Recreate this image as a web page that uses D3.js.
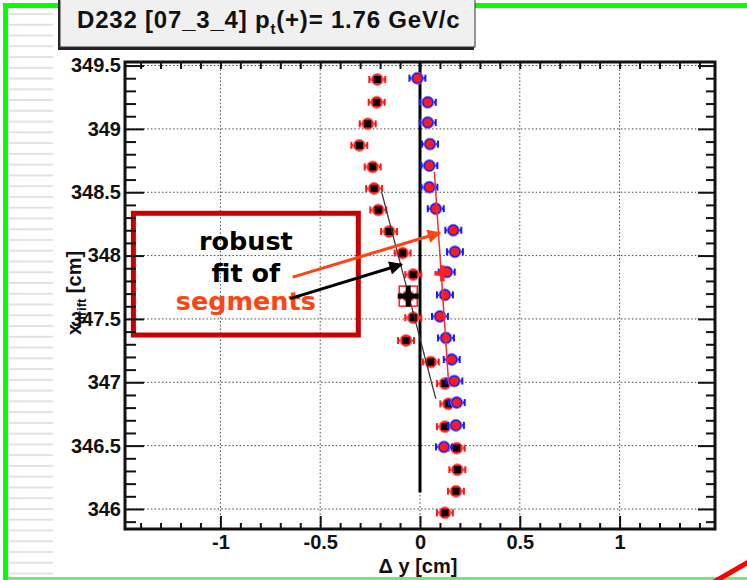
<!DOCTYPE html>
<html>
<head>
<meta charset="utf-8">
<script src="https://cdn.jsdelivr.net/npm/d3@7/dist/d3.min.js"></script>
<style>
  body { margin: 0; background: #fff; }
  svg { display: block; font-family: "Liberation Sans", Arial, Helvetica, sans-serif; font-weight: bold; }
</style>
</head>
<body>
<div id="chart"></div>
<script>

// layer hits, first set (black squares, red error bars)
var blackDy = [-0.214, -0.217, -0.262, -0.304, -0.237, -0.230, -0.209, -0.155, -0.087, -0.034,
               -0.059, -0.034, -0.070, 0.054, 0.125, 0.142, 0.125, 0.184, 0.187, 0.180, 0.125];
var blackX  = [349.39, 349.21, 349.04, 348.87, 348.70, 348.53, 348.36, 348.19, 348.02, 347.85,
               347.68, 347.51, 347.33, 347.16, 346.99, 346.83, 346.65, 346.48, 346.31, 346.14, 345.97];

// layer hits, second set (red dots, blue error bars)
var blueDy = [-0.013, 0.039, 0.039, 0.050, 0.047, 0.047, 0.079, 0.167, 0.175, 0.134,
              0.125, 0.100, 0.130, 0.159, 0.172, 0.184, 0.180, 0.120];
var blueX  = [349.40, 349.21, 349.05, 348.88, 348.71, 348.54, 348.37, 348.20, 348.03, 347.87,
              347.69, 347.52, 347.35, 347.18, 347.01, 346.84, 346.66, 346.49];

var hitErr = 0.04;

// segment fits: [dy, x] end points
var blackFit = [[-0.192, 348.50], [0.079, 346.87]];
var redFit   = [[0.072, 348.66], [0.143, 347.00]];

// fitted segment centres
var blackCentre = [-0.059, 347.68];
var redCentre   = [0.112, 347.86];

// reference wire line at dy = 0
var wireLine = [[0, 349.53], [0, 346.13]];

var xMajor = [-1, -0.5, 0, 0.5, 1];
var yMajor = [346, 346.5, 347, 347.5, 348, 348.5, 349, 349.5];

var W = 747, H = 580;
var frame = {left: 125, top: 62, right: 715, bottom: 529};

var svg = d3.select("#chart").append("svg")
    .attr("width", W).attr("height", H);

var x = d3.scaleLinear().domain([-1.478, 1.478]).range([frame.left, frame.right]);
var y = d3.scaleLinear().domain([345.842, 349.528]).range([frame.bottom, frame.top]);

// canvas decorations
var stripes = svg.append("g");
stripes.selectAll("rect")
    .data(d3.range(13, 576, 10.76))
    .enter().append("rect")
    .attr("x", 8).attr("width", 45)
    .attr("y", function(d) { return d; }).attr("height", 2)
    .attr("fill", "#e2e2e2");

svg.append("rect").attr("x", 3).attr("y", 3).attr("width", 5).attr("height", H).attr("fill", "#00ff00");
svg.append("rect").attr("x", 3).attr("y", 3).attr("width", W).attr("height", 5).attr("fill", "#00ff00");
svg.append("rect").attr("x", 8).attr("y", 577).attr("width", W).attr("height", 3).attr("fill", "#6fec6f");
svg.append("line")
    .attr("x1", 714).attr("y1", 582).attr("x2", 752).attr("y2", 560)
    .attr("stroke", "#ff0000").attr("stroke-width", 5);

// title pave
svg.append("rect").attr("x", 58).attr("y", -6).attr("width", 416).attr("height", 56).attr("fill", "#222");
svg.append("rect").attr("x", 60).attr("y", -6).attr("width", 415).attr("height", 53)
    .attr("fill", "#f0f0f0").attr("stroke", "#333").attr("stroke-width", 1);

var title = svg.append("text").attr("x", 77).attr("y", 28)
    .attr("font-size", 24).attr("fill", "#111").style("letter-spacing", "0.8px");
title.append("tspan").text("D232 [07_3_4] p");
title.append("tspan").attr("font-size", 15).attr("dy", 6).text("t");
title.append("tspan").attr("dy", -6).text("(+)= 1.76 GeV/c");

var plot = svg.append("g");

// dotted grid
plot.selectAll(".gx").data(xMajor).enter().append("line")
    .attr("x1", function(d) { return x(d); }).attr("x2", function(d) { return x(d); })
    .attr("y1", frame.top).attr("y2", frame.bottom)
    .attr("stroke", "#444").attr("stroke-width", 1).attr("stroke-dasharray", "1.5,2.2");
plot.selectAll(".gy").data(yMajor).enter().append("line")
    .attr("y1", function(d) { return y(d); }).attr("y2", function(d) { return y(d); })
    .attr("x1", frame.left).attr("x2", frame.right)
    .attr("stroke", "#444").attr("stroke-width", 1).attr("stroke-dasharray", "1.5,2.2");

var line = d3.line().x(function(d) { return x(d[0]); }).y(function(d) { return y(d[1]); });

plot.append("path").attr("d", line(wireLine))
    .attr("stroke", "#000").attr("stroke-width", 3).attr("fill", "none");

// hit markers with horizontal error bars
function drawHits(dys, xs, barColor, outerFill, outerStroke, innerShape, innerFill) {
  var data = dys.map(function(d, i) { return {dy: d, xd: xs[i]}; });
  var g = plot.append("g");
  var pts = g.selectAll("g").data(data).enter().append("g")
      .attr("transform", function(d) { return "translate(" + x(d.dy) + "," + y(d.xd) + ")"; });
  var hw = x(hitErr) - x(0);
  pts.append("line").attr("x1", -hw).attr("x2", hw).attr("y1", 0).attr("y2", 0)
      .attr("stroke", barColor).attr("stroke-width", 2.5);
  pts.append("line").attr("x1", -hw).attr("x2", -hw).attr("y1", -3.5).attr("y2", 3.5)
      .attr("stroke", barColor).attr("stroke-width", 2);
  pts.append("line").attr("x1", hw).attr("x2", hw).attr("y1", -3.5).attr("y2", 3.5)
      .attr("stroke", barColor).attr("stroke-width", 2);
  pts.append("circle").attr("r", 6)
      .attr("fill", outerFill).attr("stroke", outerStroke).attr("stroke-width", 1);
  if (innerShape === "square") {
    pts.append("rect").attr("x", -3.5).attr("y", -3.5).attr("width", 7).attr("height", 7).attr("fill", innerFill);
  } else {
    pts.append("circle").attr("r", 4.3).attr("fill", innerFill);
  }
}

drawHits(blackDy, blackX, "#ff1a1a", "#ff1a1a", "#ff7a7a", "square", "#000");
drawHits(blueDy, blueX, "#1a1aff", "#1a1aff", "#7a7aff", "circle", "#ff1a1a");

// segment fit lines
plot.append("path").attr("d", line(blackFit))
    .attr("stroke", "#333").attr("stroke-width", 1.2).attr("fill", "none");
plot.append("path").attr("d", line(redFit))
    .attr("stroke", "#ff2a2a").attr("stroke-width", 1.5).attr("fill", "none");

// fitted centres
function cross(pt, arm, thick, color) {
  var cx = x(pt[0]), cy = y(pt[1]);
  plot.append("rect").attr("x", cx - arm).attr("y", cy - thick / 2).attr("width", 2 * arm).attr("height", thick).attr("fill", color);
  plot.append("rect").attr("x", cx - thick / 2).attr("y", cy - arm).attr("width", thick).attr("height", 2 * arm).attr("fill", color);
}
plot.append("rect")
    .attr("x", x(blackCentre[0]) - 9).attr("y", y(blackCentre[1]) - 10)
    .attr("width", 18).attr("height", 20)
    .attr("fill", "none").attr("stroke", "#ff2020").attr("stroke-width", 1.5);
cross(blackCentre, 10.5, 5, "#000");
cross(redCentre, 8, 4.5, "#ff2020");

// annotation
var box = {x0: -1.436, x1: -0.309, y0: 348.334, y1: 347.373};
svg.append("rect")
    .attr("x", x(box.x0)).attr("y", y(box.y0))
    .attr("width", x(box.x1) - x(box.x0)).attr("height", y(box.y1) - y(box.y0))
    .attr("fill", "none").attr("stroke", "#c80000").attr("stroke-width", 5);

var bx = (x(box.x0) + x(box.x1)) / 2, by = y(box.y0);
var words = [["robust", "#000", 36.7], ["fit of", "#000", 68.4], ["segments", "#ff4411", 96.7]];
svg.selectAll(".note").data(words).enter().append("text")
    .attr("x", bx).attr("y", function(d) { return by + d[2]; })
    .attr("text-anchor", "middle")
    .style("font-family", "'DejaVu Sans', Verdana, sans-serif")
    .attr("font-size", 25.5)
    .attr("fill", function(d) { return d[1]; })
    .text(function(d) { return d[0]; });

var defs = svg.append("defs");
[["headRed", "#ff4411"], ["headBlack", "#000"]].forEach(function(m) {
  defs.append("marker").attr("id", m[0])
      .attr("viewBox", "0 0 10 10").attr("refX", 9).attr("refY", 5)
      .attr("markerWidth", 5.5).attr("markerHeight", 4.5)
      .attr("markerUnits", "strokeWidth").attr("orient", "auto")
      .append("path").attr("d", "M0,0L10,5L0,10z").attr("fill", m[1]);
});

var arrows = [
  {from: [-0.638, 347.83], to: [0.100, 348.18], color: "#ff4411", head: "headRed"},
  {from: [-0.651, 347.66], to: [-0.092, 347.93], color: "#000", head: "headBlack"}
];
svg.selectAll(".arrow").data(arrows).enter().append("line")
    .attr("x1", function(d) { return x(d.from[0]); }).attr("y1", function(d) { return y(d.from[1]); })
    .attr("x2", function(d) { return x(d.to[0]); }).attr("y2", function(d) { return y(d.to[1]); })
    .attr("stroke", function(d) { return d.color; }).attr("stroke-width", 3)
    .attr("marker-end", function(d) { return "url(#" + d.head + ")"; });

// axes: major and minor ticks point inwards
var fmt = function(d) { return String(d); };
var xMinor = x.ticks(30).filter(function(d) { return xMajor.indexOf(d) < 0; });
var yMinor = d3.range(3459, 3496).map(function(d) { return d / 10; })
    .filter(function(d) { return yMajor.indexOf(d) < 0; });

function axis(gen, tr, values, size, labels, pad) {
  var g = svg.append("g").attr("transform", tr)
      .call(gen.tickValues(values).tickSize(-size).tickPadding(pad || 0)
               .tickFormat(labels ? fmt : function() { return ""; }));
  g.select(".domain").remove();
  g.attr("font-family", null).attr("font-size", null);
  g.selectAll(".tick line").attr("stroke", "#111").attr("stroke-width", 2);
  g.selectAll(".tick text").attr("font-size", 20).attr("fill", "#111");
  return g;
}
var bottomTr = "translate(0," + frame.bottom + ")";
axis(d3.axisBottom(x), bottomTr, xMajor, 13, true, 6);
axis(d3.axisBottom(x), bottomTr, xMinor, 6, false);
axis(d3.axisTop(x), "translate(0," + frame.top + ")", xMajor.concat(xMinor), 7, false);
var leftTr = "translate(" + frame.left + ",0)";
axis(d3.axisLeft(y), leftTr, yMajor, 19, true, 4);
axis(d3.axisLeft(y), leftTr, yMinor, 11, false);
var rightTr = "translate(" + frame.right + ",0)";
axis(d3.axisRight(y), rightTr, yMajor, 17, false);
axis(d3.axisRight(y), rightTr, yMinor, 9, false);

svg.append("rect")
    .attr("x", frame.left).attr("y", frame.top)
    .attr("width", frame.right - frame.left).attr("height", frame.bottom - frame.top)
    .attr("fill", "none").attr("stroke", "#111").attr("stroke-width", 3);

// axis titles
var xt = svg.append("text").attr("x", x(0) - 2).attr("y", 573)
    .attr("text-anchor", "middle").attr("font-size", 20).attr("fill", "#111");
xt.text("\u0394 y [cm]");

var yt = svg.append("text").attr("transform", "translate(81,293) rotate(-90)")
    .attr("text-anchor", "middle").attr("font-size", 20).attr("fill", "#111");
yt.append("tspan").text("x");
yt.append("tspan").attr("font-size", 13).attr("dy", 5).text("drift");
yt.append("tspan").attr("dy", -5).text(" [cm]");

</script>
</body>
</html>
